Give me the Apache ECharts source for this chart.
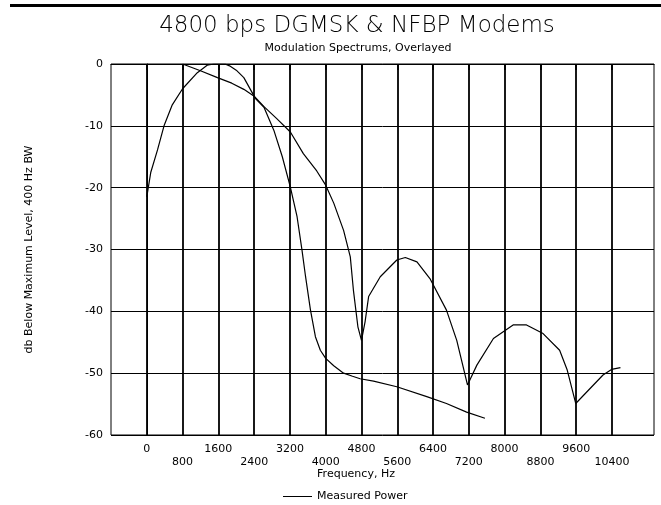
<!DOCTYPE html>
<html>
<head>
<meta charset="utf-8">
<script src="https://cdn.jsdelivr.net/npm/echarts@6/dist/echarts.min.js"></script>
<style>
html,body{margin:0;padding:0;background:#fff;}
#chart{width:661px;height:505px;}
</style>
</head>
<body>
<div id="chart"></div>
<script>
// ---- data ----
const xTicks = [0, 800, 1600, 2400, 3200, 4000, 4800, 5600, 6400, 7200, 8000, 8800, 9600, 10400];
const yTicks = [-60, -50, -40, -30, -20, -10, 0];

// steep curve (narrow main lobe, no sidelobes)
const freqA = [0, 90, 240, 390, 570, 800, 1130, 1350, 1500, 1750, 1850, 2000, 2170, 2430, 2620, 2840, 3030, 3210, 3360, 3470, 3550, 3660, 3770, 3880, 4000, 4180, 4400, 4600, 4770, 5070, 5590, 6260, 6700, 7150, 7560];
const dbA   = [-21.5, -17.5, -13.9, -9.9, -6.6, -4.0, -1.4, -0.2, 0, 0, -0.3, -1.0, -2.2, -5.6, -7.0, -10.7, -15.0, -19.9, -24.7, -30.1, -34.4, -39.8, -44.1, -46.3, -47.6, -48.8, -50.0, -50.5, -50.9, -51.3, -52.2, -53.8, -54.9, -56.3, -57.3];

// curve with nulls at 4800, 7200, 9600
const freqB = [800, 1200, 1580, 1900, 2170, 2400, 2620, 2900, 3210, 3500, 3800, 4000, 4180, 4400, 4550, 4620, 4720, 4800, 4880, 4960, 5220, 5590, 5780, 6040, 6330, 6700, 6930, 7170, 7200, 7380, 7750, 8190, 8490, 8860, 9230, 9400, 9590, 10200, 10390, 10590];
const dbB   = [0, -1.1, -2.2, -3.1, -4.1, -5.2, -6.9, -8.8, -11.0, -14.5, -17.3, -19.6, -22.5, -26.9, -31.2, -36.6, -42.5, -44.7, -41.7, -37.6, -34.4, -31.7, -31.3, -32.0, -34.7, -39.8, -44.7, -51.9, -52.0, -48.7, -44.4, -42.2, -42.2, -43.6, -46.3, -49.5, -54.9, -50.3, -49.4, -49.1];

const seriesName = 'Measured Power';
const titleText = '4800 bps DGMSK & NFBP Modems';
const subtitleText = 'Modulation Spectrums, Overlayed';
const xName = 'Frequency, Hz';
const yName = 'db Below Maximum Level, 400 Hz BW';

const FONT = '"DejaVu Sans", sans-serif';
const chart = echarts.init(document.getElementById('chart'), null, {renderer: 'canvas'});

const zip = (xs, ys) => xs.map((x, i) => [x, ys[i]]);

chart.setOption({
  animation: false,
  backgroundColor: '#fff',
  textStyle: {fontFamily: FONT, color: '#000'},
  grid: {left: 111, right: 7, top: 64, bottom: 70, show: true, borderColor: '#000', borderWidth: 1, containLabel: false},
  graphic: [
    {type: 'rect', shape: {x: 10, y: 4, width: 651, height: 3}, style: {fill: '#000'}},
    {type: 'text', x: 357, y: 26, style: {text: titleText, font: '200 23px ' + FONT, fill: '#000', textAlign: 'center', textVerticalAlign: 'middle'}},
    {type: 'text', x: 358, y: 48, style: {text: subtitleText, font: '11px ' + FONT, fill: '#000', textAlign: 'center', textVerticalAlign: 'middle'}},
    {type: 'text', x: 356, y: 474, style: {text: xName, font: '11px ' + FONT, fill: '#000', textAlign: 'center', textVerticalAlign: 'middle'}}
  ],
  legend: {
    data: [seriesName],
    left: 278, top: 486,
    icon: 'rect', itemWidth: 29, itemHeight: 1, itemGap: 8,
    textStyle: {fontFamily: FONT, fontSize: 11, color: '#000'}
  },
  xAxis: {
    type: 'value', min: -800, max: 11340,
    axisLine: {show: true, lineStyle: {color: '#000', width: 1}},
    axisTick: {show: true, customValues: xTicks, length: 6, lineStyle: {color: '#000', width: 1.8}},
    axisLabel: {
      customValues: xTicks, margin: 8, fontSize: 11, color: '#000', fontFamily: FONT, lineHeight: 13,
      formatter: v => (Math.round(v / 800) % 2 ? '\n' + v : String(v))
    },
    splitLine: {show: true, lineStyle: {color: '#000', width: 1.8}}
  },
  yAxis: {
    type: 'value', min: -60, max: 0, interval: 10,
    name: yName, nameLocation: 'middle', nameGap: 76, nameRotate: 90,
    nameTextStyle: {fontSize: 11, color: '#000', fontFamily: FONT},
    axisLine: {show: true, lineStyle: {color: '#000', width: 1}},
    axisTick: {show: false},
    axisLabel: {margin: 8, fontSize: 11, color: '#000', fontFamily: FONT, formatter: v => String(v)},
    splitLine: {show: true, lineStyle: {color: '#000', width: 1}}
  },
  series: [
    {name: seriesName, type: 'line', data: zip(freqA, dbA), showSymbol: false, smooth: false,
     lineStyle: {color: '#000', width: 1.2}, itemStyle: {color: '#000'}},
    {name: seriesName, type: 'line', data: zip(freqB, dbB), showSymbol: false, smooth: false,
     lineStyle: {color: '#000', width: 1.2}, itemStyle: {color: '#000'}}
  ]
});
</script>
</body>
</html>
